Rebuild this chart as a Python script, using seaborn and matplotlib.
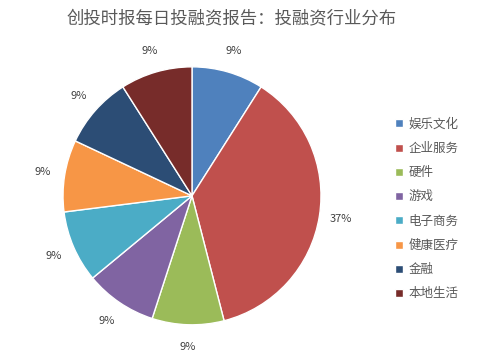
import matplotlib
matplotlib.use("Agg")
import matplotlib.pyplot as plt
import seaborn as sns

categories = ["娱乐文化", "企业服务", "硬件", "游戏", "电子商务", "健康医疗", "金融", "本地生活"]
shares = [9, 37, 9, 9, 9, 9, 9, 9]
colors = ["#4F81BD", "#C0504D", "#9BBB59", "#8064A2", "#4BACC6", "#F79646", "#2C4D75", "#772C2A"]

sns.set_theme(style="white")
plt.rcParams["font.family"] = ["Noto Sans CJK SC", "DejaVu Sans"]

fig = plt.figure(figsize=(5, 3.58), dpi=100)
fig.patch.set_facecolor("white")

# pie area placed to match the reference layout
ax = fig.add_axes([0.384 - 0.258, 0.453 - 0.3603, 0.516, 0.7206])
palette = sns.color_palette(colors)
wedges, texts, autotexts = ax.pie(
    shares,
    colors=palette,
    startangle=90,
    counterclock=False,
    autopct="%d%%",
    pctdistance=1.17,
    wedgeprops=dict(edgecolor="white", linewidth=1),
    textprops=dict(fontsize=8, color="#404040"),
)
ax.set_xlim(-1, 1)
ax.set_ylim(-1, 1)
ax.set_aspect("equal")

fig.text(0.464, 0.95, "创投时报每日投融资报告：投融资行业分布", ha="center", va="center",
         fontsize=12.5, color="#595959")

leg = fig.legend(wedges, categories, loc="center left", bbox_to_anchor=(0.768, 0.416),
                 frameon=False, fontsize=9, handlelength=0.6, handleheight=0.6,
                 handletextpad=0.45, labelspacing=0.9, labelcolor="#595959")

fig.savefig("out.png", dpi=100, facecolor="white")
